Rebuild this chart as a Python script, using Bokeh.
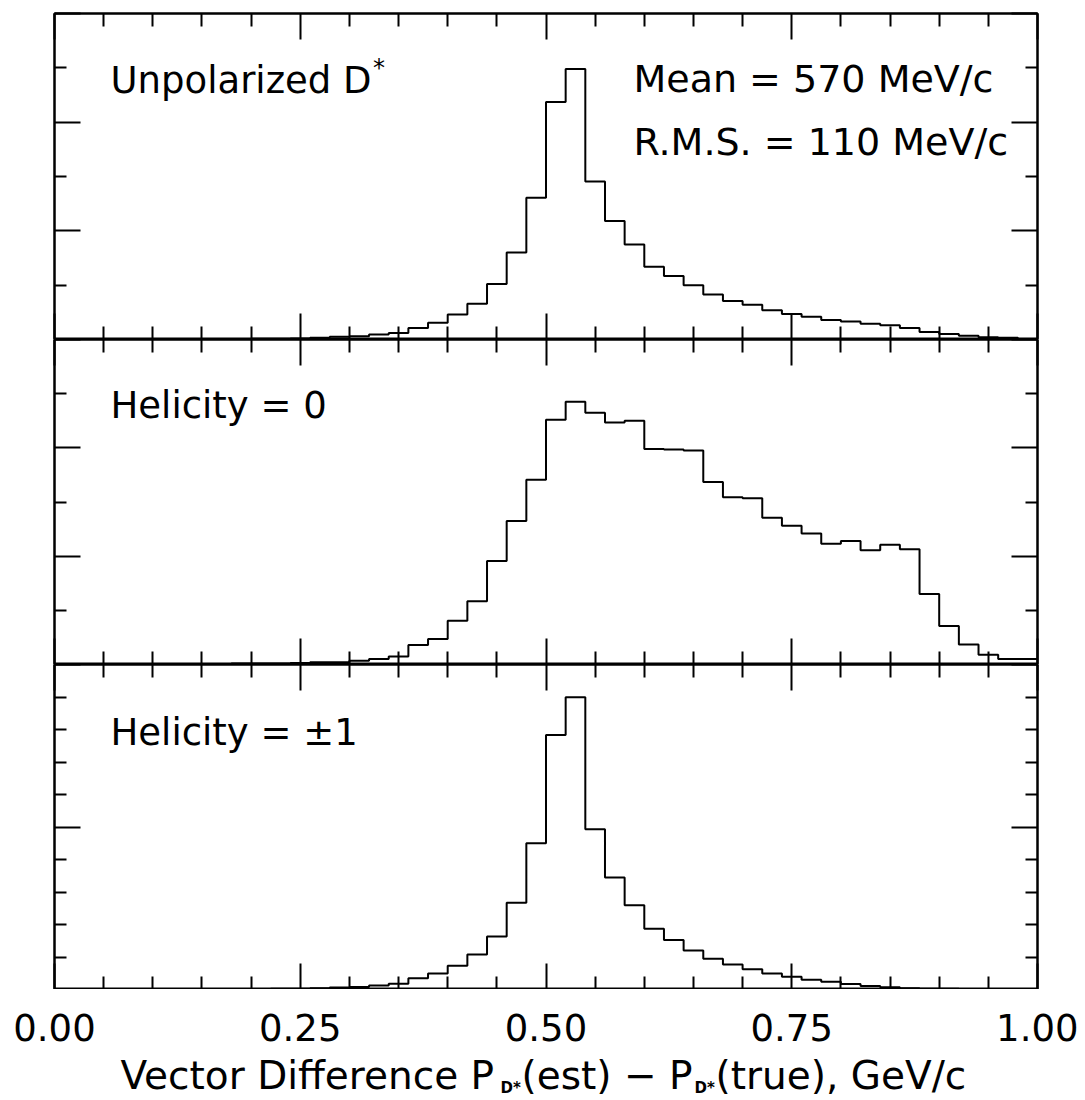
from bokeh.plotting import figure
from bokeh.models import (Range1d, LinearAxis, FixedTicker, Label, NumeralTickFormatter,
                          CustomLabelingPolicy)
from bokeh.layouts import column
from bokeh.embed import file_html
from bokeh.resources import INLINE

# ---------------- data ----------------
bin_edges = [0.00, 0.02, 0.04, 0.06, 0.08, 0.10, 0.12, 0.14, 0.16, 0.18,
             0.20, 0.22, 0.24, 0.26, 0.28, 0.30, 0.32, 0.34, 0.36, 0.38,
             0.40, 0.42, 0.44, 0.46, 0.48, 0.50, 0.52, 0.54, 0.56, 0.58,
             0.60, 0.62, 0.64, 0.66, 0.68, 0.70, 0.72, 0.74, 0.76, 0.78,
             0.80, 0.82, 0.84, 0.86, 0.88, 0.90, 0.92, 0.94, 0.96, 0.98, 1.00]

unpolarized = [0, 0, 0, 0, 0, 0, 0.003, 0.005, 0.008, 0.01,
               0.012, 0.015, 0.02, 0.03, 0.05, 0.06, 0.09, 0.12, 0.21, 0.31,
               0.46, 0.66, 1.02, 1.60, 2.61, 4.37, 4.98, 2.91, 2.18, 1.75,
               1.34, 1.17, 1.00, 0.83, 0.71, 0.64, 0.54, 0.47, 0.42, 0.36,
               0.33, 0.29, 0.26, 0.21, 0.14, 0.10, 0.07, 0.04, 0.03, 0.01]

helicity_0 = [0, 0, 0, 0, 0, 0, 0, 0, 0, 0.02,
              0.02, 0.02, 0.03, 0.04, 0.04, 0.07, 0.10, 0.15, 0.36, 0.47,
              0.81, 1.17, 1.91, 2.65, 3.41, 4.52, 4.85, 4.65, 4.47, 4.50,
              3.98, 3.97, 3.95, 3.37, 3.09, 3.07, 2.71, 2.56, 2.42, 2.23,
              2.28, 2.11, 2.21, 2.13, 1.30, 0.71, 0.37, 0.18, 0.10, 0.10]

helicity_pm1 = [0, 0, 0, 0, 0, 0, 0, 0, 0, 0,
                0, 0.02, 0.02, 0.04, 0.06, 0.08, 0.12, 0.18, 0.35, 0.49,
                0.73, 1.08, 1.63, 2.67, 4.50, 7.83, 8.99, 4.93, 3.45, 2.59,
                1.87, 1.52, 1.20, 0.95, 0.77, 0.62, 0.49, 0.39, 0.30, 0.24,
                0.17, 0.11, 0.07, 0.04, 0.02, 0.02, 0.01, 0, 0, 0]

x_major_ticks = [0.0, 0.25, 0.5, 0.75, 1.0]
x_minor_ticks = [0.05, 0.10, 0.15, 0.20, 0.30, 0.35, 0.40, 0.45, 0.55, 0.60,
                 0.65, 0.70, 0.80, 0.85, 0.90, 0.95]

panel_titles = ["Unpolarized D", "Helicity = 0", "Helicity = \u00b11"]
stats_text = ["Mean = 570 MeV/c", "R.M.S. = 110 MeV/c"]
x_title_main = ["Vector Difference P", "(est) \u2212 P", "(true), GeV/c"]
x_title_sub = ["D*", "D*"]

FONT = "DejaVu Sans"
FIG_W = 1078
BL, BR = 54, 41

NO_LABELS = "return []"


def style_axis(ax, major, minor, major_len, minor_len):
    ax.ticker = FixedTicker(ticks=major, minor_ticks=minor)
    ax.major_tick_in = major_len
    ax.major_tick_out = 0
    ax.minor_tick_in = minor_len
    ax.minor_tick_out = 0
    ax.major_tick_line_width = 2
    ax.minor_tick_line_width = 2
    ax.major_tick_line_color = "black"
    ax.minor_tick_line_color = "black"
    ax.axis_line_width = 2
    ax.axis_line_color = "black"
    ax.major_label_policy = CustomLabelingPolicy(code=NO_LABELS)
    ax.major_label_text_font_size = "0px"
    ax.major_label_standoff = 0


def make_panel(values, ymax, y_major, y_minor, height, top_b):
    p = figure(width=FIG_W, height=height, x_range=Range1d(0, 1), y_range=Range1d(0, ymax),
               x_axis_location=None, y_axis_location=None, toolbar_location=None,
               output_backend="svg", min_border_left=BL, min_border_right=BR,
               min_border_top=top_b, min_border_bottom=0)
    p.grid.visible = False
    p.outline_line_color = "black"
    p.outline_line_width = 2
    p.background_fill_color = "white"
    p.border_fill_color = "white"
    for loc in ("left", "right"):
        ax = LinearAxis()
        style_axis(ax, y_major, y_minor, 26, 12)
        p.add_layout(ax, loc)
    for loc in ("above", "below"):
        ax = LinearAxis()
        style_axis(ax, x_major_ticks, x_minor_ticks, 26, 13)
        p.add_layout(ax, loc)
    p.step(x=bin_edges, y=list(values) + [values[-1]], mode="after",
           line_color="black", line_width=2)
    return p


p1 = make_panel(unpolarized, 6, [0, 2, 4, 6], [1, 3, 5], 339, 13)
p2 = make_panel(helicity_0, 6, [0, 2, 4, 6], [1, 3, 5], 325, 0)
p3 = make_panel(helicity_pm1, 10, [0, 5, 10], [1, 2, 3, 4, 6, 7, 8, 9], 325, 0)


def lab(p, x, y, text, size, align="left", style="normal"):
    p.add_layout(Label(x=x, y=y, x_units="data", y_units="data", text=text,
                       text_font=FONT, text_font_size=size, text_color="black",
                       text_align=align, text_baseline="alphabetic", text_font_style=style))


lab(p1, 0.057, 4.77, panel_titles[0], "37px")
lab(p1, 0.324, 5.00, "*", "24px")
lab(p1, 0.589, 4.80, stats_text[0], "38px")
lab(p1, 0.589, 3.63, stats_text[1], "38px")
lab(p2, 0.057, 4.78, panel_titles[1], "37px")
lab(p3, 0.057, 7.91, panel_titles[2], "37px")

# strip below the panels: tick labels (axis above) + x-axis title with subscripts
pt = figure(width=FIG_W, height=110, x_range=Range1d(0, 1), y_range=Range1d(0, 43),
            x_axis_location=None, y_axis_location=None, toolbar_location=None,
            output_backend="svg", min_border_left=BL, min_border_right=BR,
            min_border_top=67, min_border_bottom=0)
pt.grid.visible = False
pt.outline_line_color = None
pt.border_fill_color = "white"
tick_ax = LinearAxis(ticker=FixedTicker(ticks=x_major_ticks, minor_ticks=[]),
                     formatter=NumeralTickFormatter(format="0.00"))
tick_ax.axis_line_color = None
tick_ax.major_tick_line_color = None
tick_ax.minor_tick_line_color = None
tick_ax.major_tick_in = 0
tick_ax.major_tick_out = 0
tick_ax.minor_tick_in = 0
tick_ax.minor_tick_out = 0
tick_ax.major_label_text_font = FONT
tick_ax.major_label_text_font_size = "37px"
tick_ax.major_label_text_color = "black"
tick_ax.major_label_standoff = 16
pt.add_layout(tick_ax, "above")

main_x = [0.0671, 0.4751, 0.6724]
sub_x = [0.4537, 0.6511]
for xx, tt in zip(main_x, x_title_main):
    lab(pt, xx, 24, tt, "39px")
for xx, tt in zip(sub_x, x_title_sub):
    lab(pt, xx, 12, tt, "15px", style="bold")

layout = column(p1, p2, p3, pt, spacing=0)
open("out.html", "w").write(file_html(layout, INLINE))
